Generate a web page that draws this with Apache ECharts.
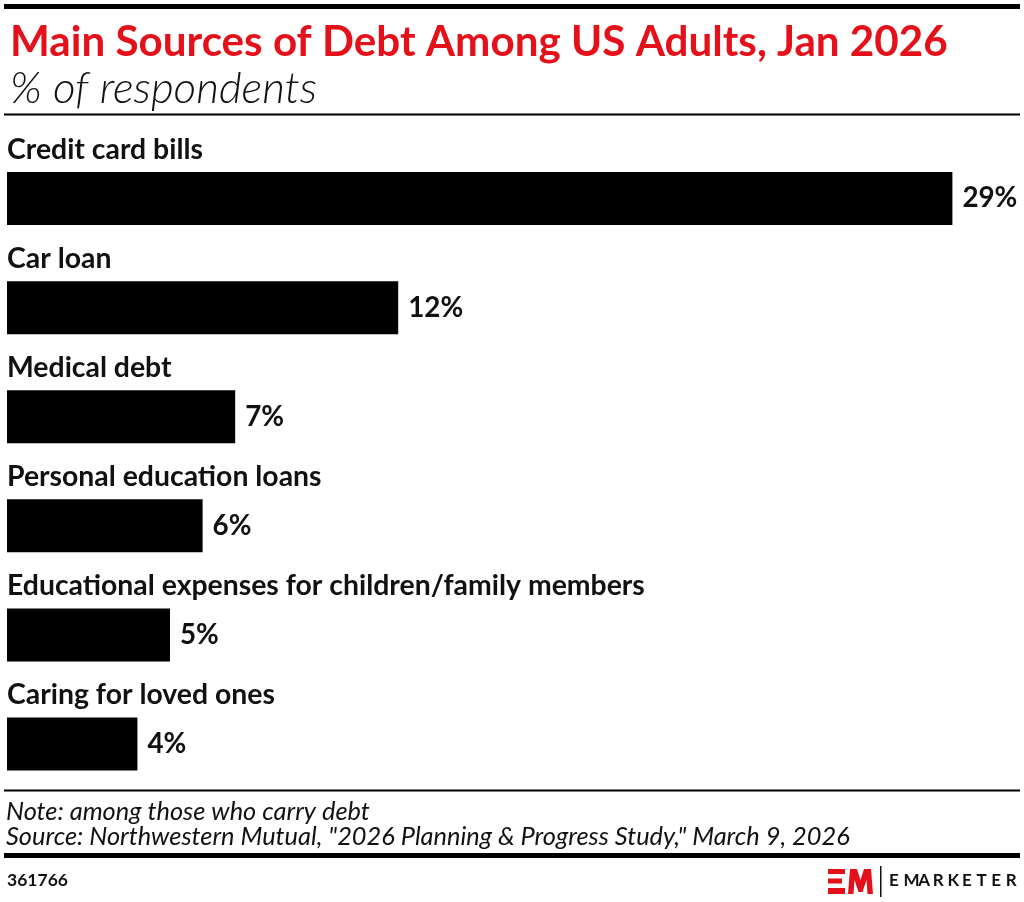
<!DOCTYPE html>
<html><head><meta charset="utf-8">
<script src="https://cdn.jsdelivr.net/npm/echarts@6/dist/echarts.min.js"></script>
<style>html,body{margin:0;padding:0;background:#fff}#c{width:1024px;height:902px}</style>
</head><body><div id="c"></div>
<script>
const categories = ["Credit card bills","Car loan","Medical debt","Personal education loans","Educational expenses for children/family members","Caring for loved ones"];
const values = [29,12,7,6,5,4];
const titleText = "Main Sources of Debt Among US Adults, Jan 2026";
const subtitleText = "% of respondents";
const noteText = "Note: among those who carry debt";
const sourceText = "Source: Northwestern Mutual, \"2026 Planning & Progress Study,\" March 9, 2026";
const chartId = "361766";
const brand = "EMARKETER";

const FAM = 'Lato, "Noto Sans", sans-serif';
const cv = document.createElement('canvas').getContext('2d');
function fit(text, weight, style, target, base) {
  cv.font = style + ' ' + weight + ' ' + base + 'px ' + FAM;
  return base * target / cv.measureText(text).width;
}
const titleSize = fit(titleText, 'bold', 'normal', 938, 36);
const subSize = fit(subtitleText, '300', 'italic', 307, 34);
const catSize = fit(categories[4], 'bold', 'normal', 638, 24);
const noteSize = fit(sourceText, 'normal', 'italic', 844, 20);
const valSize = fit('29%', 'bold', 'normal', 55, 22);
const idSize = fit(chartId, 'bold', 'normal', 61, 18);

const chart = echarts.init(document.getElementById('c'), null, {renderer:'canvas'});
const brandLetters = brand.split('').map((ch, i) => ({
  type:'text', left: 889 + i*14.6, top: 872,
  style:{text: ch, font:'bold 17px ' + FAM, fill:'#111'}
}));
chart.setOption({
  animation:false,
  backgroundColor:'#fff',
  title:[
    {text:titleText, left:5, top:16, textStyle:{color:'#e4111b', fontFamily:FAM, fontWeight:'bold', fontSize:titleSize}},
    {text:subtitleText, left:5, top:62, textStyle:{color:'#111', fontFamily:FAM, fontWeight:300, fontStyle:'italic', fontSize:subSize}}
  ],
  grid:{left:7, right:39, top:144, bottom:103.5, containLabel:false},
  xAxis:{type:'value', min:0, max:30, show:false},
  yAxis:{type:'category', data:categories, inverse:true,
    axisLine:{show:false}, axisTick:{show:false}, splitLine:{show:false},
    axisLabel:{inside:true, margin:0, align:'left', verticalAlign:'bottom', padding:[0,0,35,0],
      color:'#111', fontFamily:FAM, fontWeight:'bold', fontSize:catSize}},
  series:[{type:'bar', data:values, barWidth:53, itemStyle:{color:'#000'},
    label:{show:true, position:'right', distance:10, formatter:'{c}%', color:'#111',
      fontFamily:FAM, fontWeight:'bold', fontSize:valSize}}],
  graphic:[
    {type:'rect', shape:{x:4, y:4, width:1016, height:5}, style:{fill:'#000'}},
    {type:'rect', shape:{x:4, y:113.5, width:1016, height:2}, style:{fill:'#000'}},
    {type:'rect', shape:{x:4, y:789.5, width:1016, height:2}, style:{fill:'#000'}},
    {type:'text', left:6, top:799, style:{text:noteText, font:'italic ' + noteSize + 'px ' + FAM, fill:'#111'}},
    {type:'text', left:6, top:824, style:{text:sourceText, font:'italic ' + noteSize + 'px ' + FAM, fill:'#111'}},
    {type:'rect', shape:{x:4, y:853, width:1016, height:5}, style:{fill:'#000'}},
    {type:'text', left:7, top:871, style:{text:chartId, font:'bold ' + idSize + 'px ' + FAM, fill:'#111'}},
    {type:'rect', shape:{x:828, y:869, width:17, height:5}, style:{fill:'#e4111b'}},
    {type:'rect', shape:{x:828, y:878.5, width:14, height:5}, style:{fill:'#e4111b'}},
    {type:'rect', shape:{x:828, y:888, width:17, height:6}, style:{fill:'#e4111b'}},
    {type:'polygon', shape:{points:[[848,894],[850,869],[857,869],[860.5,880],[864,869],[871,869],[873,894],[867.5,894],[866.5,880],[862.5,892],[858.5,892],[854.5,880],[853.5,894]]}, style:{fill:'#e4111b'}},
    {type:'rect', shape:{x:880, y:866, width:1.5, height:31}, style:{fill:'#111'}}
  ].concat(brandLetters)
});
</script></body></html>
